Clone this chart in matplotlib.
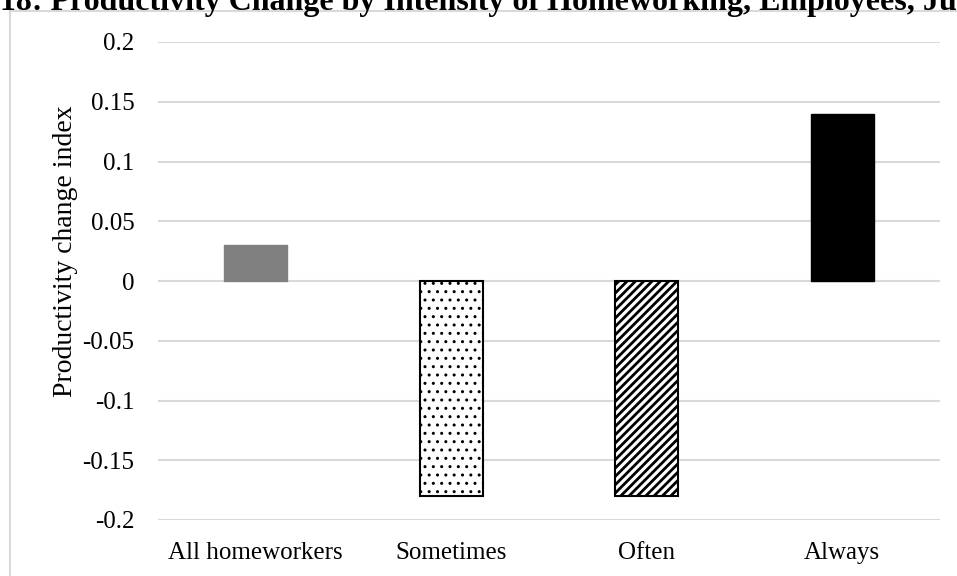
import matplotlib
matplotlib.use("Agg")
import matplotlib.pyplot as plt
from matplotlib.lines import Line2D

# Productivity change index by intensity of homeworking
categories = ["All homeworkers", "Sometimes", "Often", "Always"]
values = [0.03, -0.18, -0.18, 0.14]
y_ticks = [-0.2, -0.15, -0.1, -0.05, 0, 0.05, 0.1, 0.15, 0.2]
y_tick_labels = ["-0.2", "-0.15", "-0.1", "-0.05", "0", "0.05", "0.1", "0.15", "0.2"]

plt.rcParams["font.family"] = ["Liberation Serif", "DejaVu Serif"]

W, H = 957, 576
fig = plt.figure(figsize=(W / 100, H / 100), dpi=100)
ax = fig.add_axes([158 / W, 1 - 520 / H, (940 - 158) / W, (520 - 42) / H])

x = range(len(categories))
bars = ax.bar(x, values, width=0.32, zorder=3)

# bar fills: solid grey, dotted, striped, solid black
bars[0].set_facecolor("#808080")
bars[0].set_edgecolor("#808080")
bars[1].set_facecolor("white")
bars[1].set_edgecolor("black")
bars[1].set_hatch("..")
bars[1].set_linewidth(1.5)
bars[2].set_facecolor("white")
bars[2].set_edgecolor("black")
bars[2].set_hatch("////")
bars[2].set_linewidth(1.5)
bars[3].set_facecolor("black")
bars[3].set_edgecolor("black")
if hasattr(bars[1], "set_hatch_linewidth"):
    bars[1].set_hatch_linewidth(1.0)
    bars[2].set_hatch_linewidth(2.0)

ax.set_xlim(-0.5, len(categories) - 0.5)
ax.set_ylim(-0.2, 0.2)
ax.set_yticks(y_ticks)
ax.set_yticklabels(y_tick_labels, fontsize=18)
ax.set_xticks(list(x))
ax.set_xticklabels(categories, fontsize=18)
ax.tick_params(axis="y", length=0, pad=17)
ax.tick_params(axis="x", length=0, pad=16)
ax.yaxis.grid(True, color="#d9d9d9", linewidth=1.5, zorder=0)
ax.set_axisbelow(True)
for s in ax.spines.values():
    s.set_visible(False)
ax.set_ylabel("Productivity change index", fontsize=20)
ax.yaxis.label.set_verticalalignment("center")
ax.yaxis.set_label_coords((66 - 158) / (940 - 158), (520 - 251) / (520 - 42))

# chart frame (only top and left edges fall inside the image)
fig.add_artist(Line2D([10 / W, 10 / W], [0, 1 - 11 / H], color="#d9d9d9",
                      linewidth=1.5, transform=fig.transFigure))
fig.add_artist(Line2D([10 / W, 1], [1 - 11 / H, 1 - 11 / H], color="#d9d9d9",
                      linewidth=1.5, transform=fig.transFigure))

fig.text(0.0, 1 - 10 / H,
         "18: Productivity Change by Intensity of Homeworking, Employees, June 2020",
         fontsize=23, fontweight="bold", ha="left", va="baseline")

fig.savefig("out.png", dpi=100)
